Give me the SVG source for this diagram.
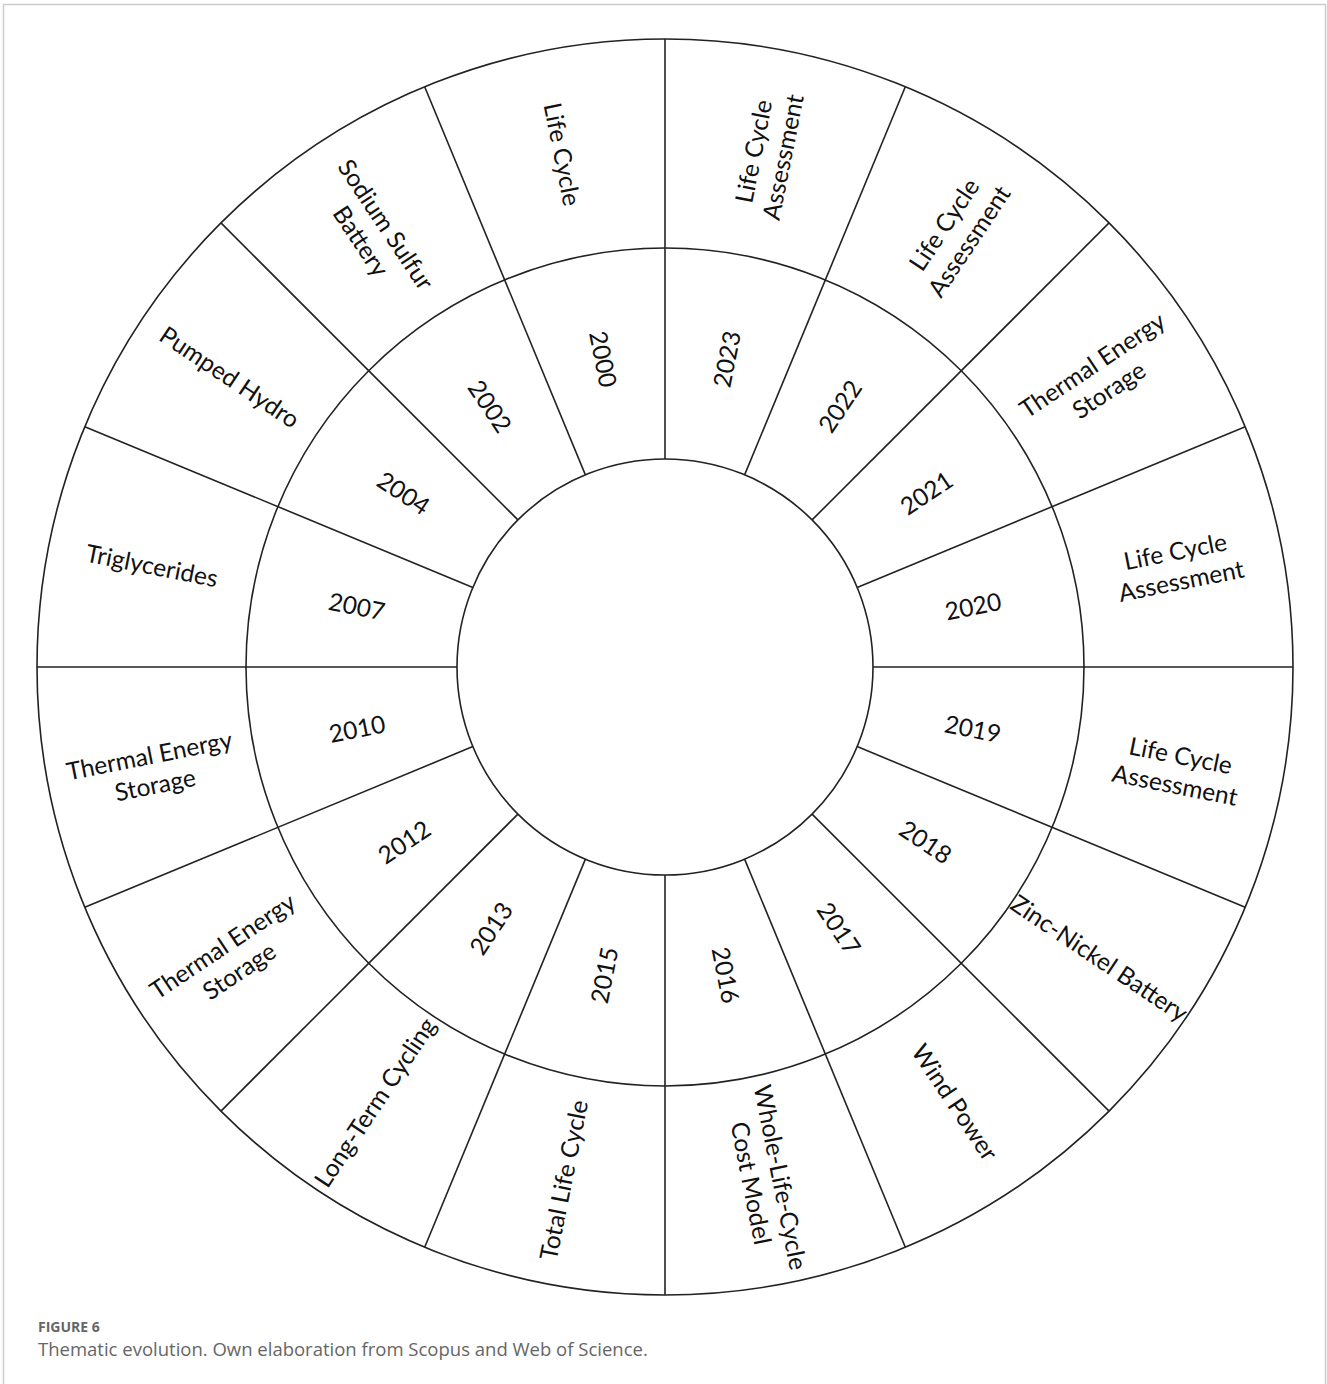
<svg xmlns="http://www.w3.org/2000/svg" width="1327" height="1384" viewBox="0 0 1327 1384">
<style>
.frame{fill:none;stroke:#cccccc;stroke-width:1.5}
.ring{fill:none;stroke:#222222;stroke-width:1.6}
.div{stroke:#222222;stroke-width:1.6}
.lbl{font-family:Lato,"Open Sans","DejaVu Sans",sans-serif;font-size:24.5px;fill:#111111;text-anchor:middle;dominant-baseline:central}
.cap1{font-family:"Open Sans","Noto Sans",sans-serif;font-size:14px;font-weight:bold;fill:#666666}
.cap2{font-family:"Open Sans","Noto Sans",sans-serif;font-size:18.5px;fill:#666666}
</style>
<rect width="1327" height="1384" fill="#ffffff"/>
<rect class="frame" x="3.5" y="4.5" width="1322" height="1420"/>
<g id="rings">
<circle class="ring" cx="665" cy="667" r="628"/>
<circle class="ring" cx="665" cy="667" r="419"/>
<circle class="ring" cx="665" cy="667" r="208"/>
</g>
<g id="connectors">
<line class="div" x1="665" y1="459" x2="665" y2="39"/>
<line class="div" x1="744.60" y1="474.83" x2="905.33" y2="86.80"/>
<line class="div" x1="812.08" y1="519.92" x2="1109.06" y2="222.94"/>
<line class="div" x1="857.17" y1="587.40" x2="1245.20" y2="426.67"/>
<line class="div" x1="873" y1="667" x2="1293" y2="667"/>
<line class="div" x1="857.17" y1="746.60" x2="1245.20" y2="907.33"/>
<line class="div" x1="812.08" y1="814.08" x2="1109.06" y2="1111.06"/>
<line class="div" x1="744.60" y1="859.17" x2="905.33" y2="1247.20"/>
<line class="div" x1="665" y1="875" x2="665" y2="1295"/>
<line class="div" x1="585.40" y1="859.17" x2="424.67" y2="1247.20"/>
<line class="div" x1="517.92" y1="814.08" x2="220.94" y2="1111.06"/>
<line class="div" x1="472.83" y1="746.60" x2="84.80" y2="907.33"/>
<line class="div" x1="457" y1="667" x2="37" y2="667"/>
<line class="div" x1="472.83" y1="587.40" x2="84.80" y2="426.67"/>
<line class="div" x1="517.92" y1="519.92" x2="220.94" y2="222.94"/>
<line class="div" x1="585.40" y1="474.83" x2="424.67" y2="86.80"/>
</g>
<g id="seg-2023">
<text class="lbl" transform="translate(726.26,359.03) rotate(-78.75)">2023</text>
<text class="lbl" transform="translate(767.03,154.05) rotate(-78.75)"><tspan x="0" y="-15">Life Cycle</tspan><tspan x="0" y="15">Assessment</tspan></text>
</g>
<g id="seg-2022">
<text class="lbl" transform="translate(839.45,405.92) rotate(-56.25)">2022</text>
<text class="lbl" transform="translate(955.56,232.14) rotate(-56.25)"><tspan x="0" y="-15">Life Cycle</tspan><tspan x="0" y="15">Assessment</tspan></text>
</g>
<g id="seg-2021">
<text class="lbl" transform="translate(926.08,492.55) rotate(-33.75)">2021</text>
<text class="lbl" transform="translate(1099.86,376.44) rotate(-33.75)"><tspan x="0" y="-15">Thermal Energy</tspan><tspan x="0" y="15">Storage</tspan></text>
</g>
<g id="seg-2020">
<text class="lbl" transform="translate(972.97,605.74) rotate(-11.25)">2020</text>
<text class="lbl" transform="translate(1177.95,564.97) rotate(-11.25)"><tspan x="0" y="-15">Life Cycle</tspan><tspan x="0" y="15">Assessment</tspan></text>
</g>
<g id="seg-2019">
<text class="lbl" transform="translate(972.97,728.26) rotate(11.25)">2019</text>
<text class="lbl" transform="translate(1177.95,769.03) rotate(11.25)"><tspan x="0" y="-15">Life Cycle</tspan><tspan x="0" y="15">Assessment</tspan></text>
</g>
<g id="seg-2018">
<text class="lbl" transform="translate(926.08,841.45) rotate(33.75)">2018</text>
<text class="lbl" transform="translate(1099.86,957.56) rotate(33.75)">Zinc-Nickel Battery</text>
</g>
<g id="seg-2017">
<text class="lbl" transform="translate(839.45,928.08) rotate(56.25)">2017</text>
<text class="lbl" transform="translate(955.56,1101.86) rotate(56.25)">Wind Power</text>
</g>
<g id="seg-2016">
<text class="lbl" transform="translate(726.26,974.97) rotate(78.75)">2016</text>
<text class="lbl" transform="translate(767.03,1179.95) rotate(78.75)"><tspan x="0" y="-15">Whole-Life-Cycle</tspan><tspan x="0" y="15">Cost Model</tspan></text>
</g>
<g id="seg-2015">
<text class="lbl" transform="translate(603.74,974.97) rotate(-78.75)">2015</text>
<text class="lbl" transform="translate(562.97,1179.95) rotate(-78.75)">Total Life Cycle</text>
</g>
<g id="seg-2013">
<text class="lbl" transform="translate(490.55,928.08) rotate(-56.25)">2013</text>
<text class="lbl" transform="translate(374.44,1101.86) rotate(-56.25)">Long-Term Cycling</text>
</g>
<g id="seg-2012">
<text class="lbl" transform="translate(403.92,841.45) rotate(-33.75)">2012</text>
<text class="lbl" transform="translate(230.14,957.56) rotate(-33.75)"><tspan x="0" y="-15">Thermal Energy</tspan><tspan x="0" y="15">Storage</tspan></text>
</g>
<g id="seg-2010">
<text class="lbl" transform="translate(357.03,728.26) rotate(-11.25)">2010</text>
<text class="lbl" transform="translate(152.05,769.03) rotate(-11.25)"><tspan x="0" y="-15">Thermal Energy</tspan><tspan x="0" y="15">Storage</tspan></text>
</g>
<g id="seg-2007">
<text class="lbl" transform="translate(357.03,605.74) rotate(11.25)">2007</text>
<text class="lbl" transform="translate(152.05,564.97) rotate(11.25)">Triglycerides</text>
</g>
<g id="seg-2004">
<text class="lbl" transform="translate(403.92,492.55) rotate(33.75)">2004</text>
<text class="lbl" transform="translate(230.14,376.44) rotate(33.75)">Pumped Hydro</text>
</g>
<g id="seg-2002">
<text class="lbl" transform="translate(490.55,405.92) rotate(56.25)">2002</text>
<text class="lbl" transform="translate(374.44,232.14) rotate(56.25)"><tspan x="0" y="-15">Sodium Sulfur</tspan><tspan x="0" y="15">Battery</tspan></text>
</g>
<g id="seg-2000">
<text class="lbl" transform="translate(603.74,359.03) rotate(78.75)">2000</text>
<text class="lbl" transform="translate(562.97,154.05) rotate(78.75)">Life Cycle</text>
</g>
<g id="caption">
<text class="cap1" x="38" y="1332">FIGURE 6</text>
<text class="cap2" x="38" y="1356">Thematic evolution. Own elaboration from Scopus and Web of Science.</text>
</g>
</svg>
